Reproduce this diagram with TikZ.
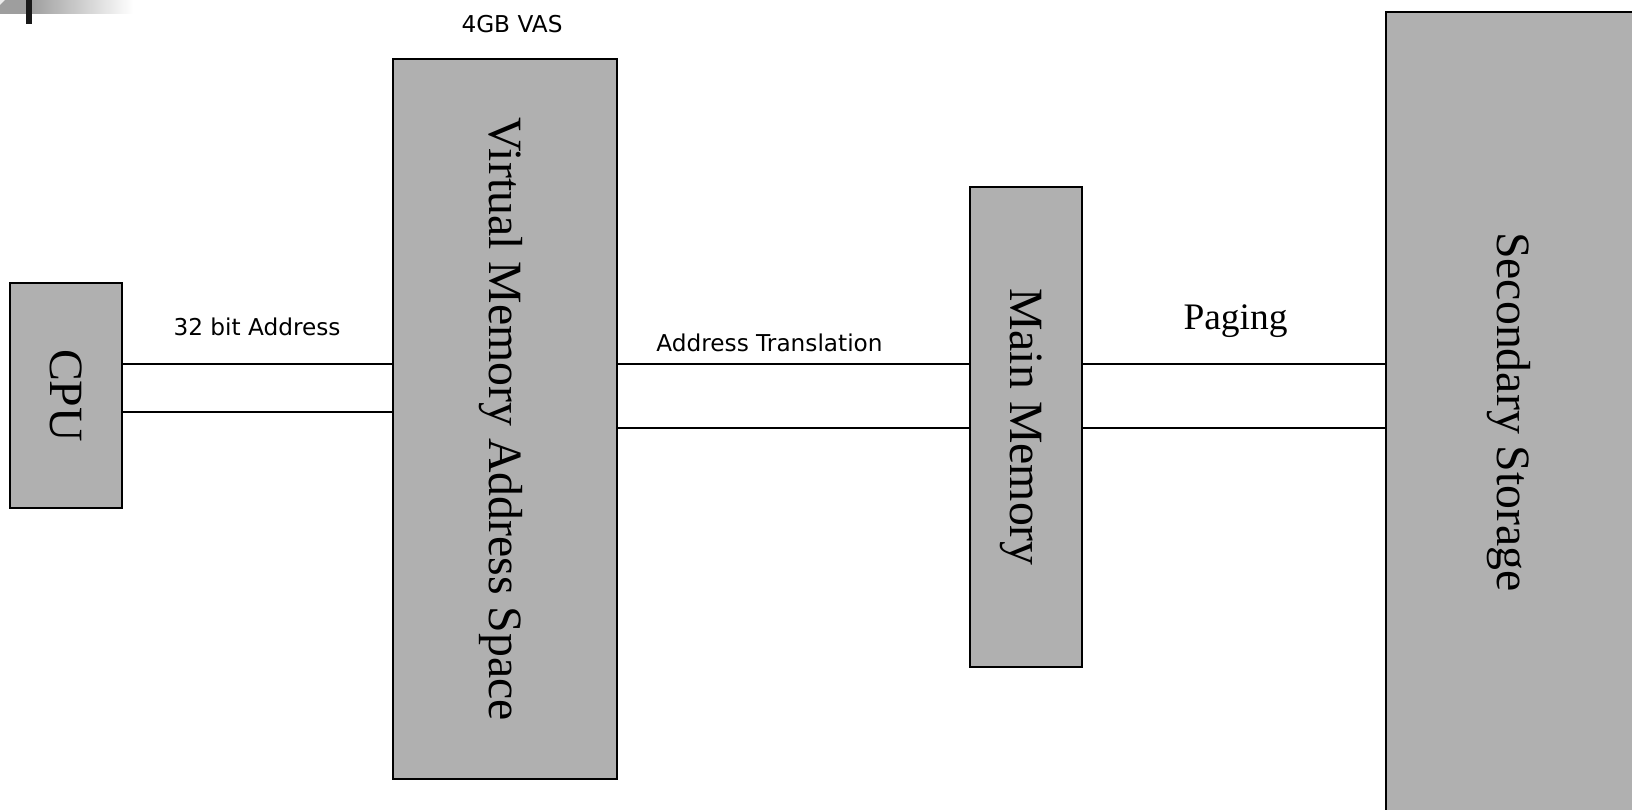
\documentclass[tikz,border=0pt]{standalone}
\usepackage{fontspec}
\setmainfont{Liberation Serif}
\newfontfamily\labelsans{DejaVu Sans}
\definecolor{boxgray}{RGB}{176,176,176}
\definecolor{bandgray}{RGB}{158,158,158}
\begin{document}
\begin{tikzpicture}[x=0.02cm,y=-0.02cm,
  unit/.style={draw=black, line width=1.3pt, fill=boxgray, inner sep=0pt, outer sep=0pt},
  vtext/.style={rotate=-90, inner sep=0pt, font=\fontsize{27.2}{30}\selectfont,
                text height=18pt, text depth=0pt},
  bus/.style={line width=0.95pt},
  buslabel/.style={anchor=base, inner sep=0pt, font=\labelsans\fontsize{13.2}{15}\selectfont},
  pagelabel/.style={anchor=base, inner sep=0pt, font=\fontsize{21.3}{24}\selectfont},
]
\useasboundingbox (0,0) rectangle (1632,810);

% slide header band
\fill[bandgray] (0,0) rectangle (30,14);
\shade[left color=bandgray, right color=white] (30,0) rectangle (133,14);
\fill[white!85!gray] (0,0) -- (5,0) -- (0,5) -- cycle;
\fill[black!90] (26,0) rectangle (32,24);

% memory hierarchy blocks
\node[unit, minimum width=2.24cm, minimum height=4.5cm] (cpu) at (66,395.5) {};
\node[unit, minimum width=4.48cm, minimum height=14.4cm] (vas) at (505,419) {};
\node[unit, minimum width=2.24cm, minimum height=9.6cm] (mm) at (1026,427) {};
\node[unit, minimum width=5.08cm, minimum height=16cm] (ss) at (1513,412) {};

\node[vtext] (cputxt) at (cpu.center) {CPU};
\node[vtext] (vastxt) at (vas.center) {Virtual Memory Address Space};
\node[vtext] (mmtxt) at (mm.center) {Main Memory};
\node[vtext] (sstxt) at (ss.center) {Secondary Storage};

% buses between the blocks
\draw[bus] (cpu.east |- 0,364) -- (vas.west |- 0,364);
\draw[bus] (cpu.east |- 0,412) -- (vas.west |- 0,412);
\draw[bus] (vas.east |- 0,364) -- (mm.west |- 0,364);
\draw[bus] (vas.east |- 0,428) -- (mm.west |- 0,428);
\draw[bus] (mm.east |- 0,364) -- (ss.west |- 0,364);
\draw[bus] (mm.east |- 0,428) -- (ss.west |- 0,428);

% labels
\node[buslabel] (lblvas) at (512,33) {4GB VAS};
\node[buslabel] (lbladdr) at (257,336) {32 bit Address};
\node[buslabel] (lbltrans) at (769.5,351.7) {Address Translation};
\node[pagelabel] (lblpage) at (1235.5,330) {Paging};
\end{tikzpicture}
\end{document}
